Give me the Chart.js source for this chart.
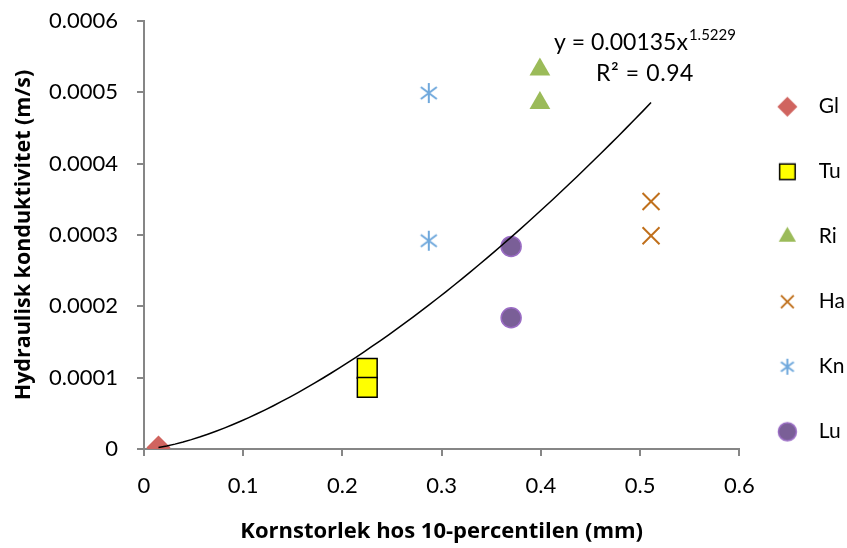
<!DOCTYPE html>
<html>
<head>
<meta charset="utf-8">
<script src="https://cdn.jsdelivr.net/npm/chart.js@4"></script>
<style>
  html, body { margin: 0; padding: 0; background: #fff; }
  #wrap { width: 847px; height: 548px; }
</style>
</head>
<body>
<div id="wrap"><canvas id="chart" width="847" height="548"></canvas></div>
<script>
// values
const seriesNames = ['Gl', 'Tu', 'Ri', 'Ha', 'Kn', 'Lu'];
const glX = [0.0146];
const glY = [0.000002];
const tuX = [0.225, 0.225];
const tuY = [0.000113, 0.0000865];
const riX = [0.399, 0.399];
const riY = [0.000532, 0.000485];
const haX = [0.511, 0.511];
const haY = [0.000347, 0.000299];
const knX = [0.287, 0.287];
const knY = [0.000499, 0.000292];
const luX = [0.370, 0.370];
const luY = [0.000284, 0.000184];

const xTicks = [0, 0.1, 0.2, 0.3, 0.4, 0.5, 0.6];
const yTicks = [0, 0.0001, 0.0002, 0.0003, 0.0004, 0.0005, 0.0006];

// power trendline shown on the chart
const trendA = 0.00135;
const trendB = 1.5229;
const trendFrom = 0.0146;
const trendTo = 0.511;

const FONT = 'Lato, "Open Sans", sans-serif';
const TITLE_FONT = '"Open Sans", Lato, sans-serif';

function pts(xs, ys) {
  return xs.map((x, i) => ({ x: x, y: ys[i] }));
}

// six-armed asterisk like the Excel marker
function asterisk(color, size) {
  const c = document.createElement('canvas');
  c.width = size; c.height = size;
  const g = c.getContext('2d');
  const r = size / 2 - 1;
  g.strokeStyle = color;
  g.lineWidth = 2;
  g.beginPath();
  g.moveTo(size / 2, size / 2 - r); g.lineTo(size / 2, size / 2 + r);
  const d = r * 0.8;
  g.moveTo(size / 2 - d, size / 2 - d * 0.75); g.lineTo(size / 2 + d, size / 2 + d * 0.75);
  g.moveTo(size / 2 - d, size / 2 + d * 0.75); g.lineTo(size / 2 + d, size / 2 - d * 0.75);
  g.stroke();
  return c;
}

const knMarker = asterisk('#6FA8DC', 22);

// legend marker drawn a bit left of the image centre, so the label sits further right
function legendMarker(ds, r) {
  const w = 40, h = 2 * r + 6;
  const c = document.createElement('canvas');
  c.width = w; c.height = h;
  const g = c.getContext('2d');
  const cx = 11.5, cy = h / 2;
  if (typeof ds.pointStyle !== 'string') {
    const img = asterisk(ds.borderColor, 2 * r);
    g.drawImage(img, cx - r, cy - r);
    return c;
  }
  g.fillStyle = ds.backgroundColor;
  g.strokeStyle = ds.borderColor;
  g.lineWidth = ds.borderWidth;
  Chart.helpers.drawPoint(g, { pointStyle: ds.pointStyle, radius: r, borderWidth: ds.borderWidth, rotation: 0 }, cx, cy);
  return c;
}

const legendRadius = [10, 11, 10, 9, 9, 9];

const trendPlugin = {
  id: 'trend',
  afterDatasetsDraw(chart) {
    const { ctx, scales } = chart;
    const xs = scales.x, ys = scales.y;
    ctx.save();
    ctx.beginPath();
    const n = 60;
    for (let i = 0; i <= n; i++) {
      const x = trendFrom + (trendTo - trendFrom) * i / n;
      const px = xs.getPixelForValue(x);
      const py = ys.getPixelForValue(trendA * Math.pow(x, trendB));
      if (i === 0) ctx.moveTo(px, py); else ctx.lineTo(px, py);
    }
    ctx.strokeStyle = '#000';
    ctx.lineWidth = 1.5;
    ctx.stroke();

    // equation label
    ctx.fillStyle = '#000';
    ctx.textBaseline = 'middle';
    ctx.textAlign = 'left';
    ctx.font = '23px ' + FONT;
    const eq = 'y = ' + trendA + 'x';
    const left = 554;
    ctx.fillText(eq, left, 43);
    const w = ctx.measureText(eq).width;
    ctx.font = '15px ' + FONT;
    ctx.fillText(String(trendB), left + w + 1, 35);
    ctx.letterSpacing = '0.6px';
    ctx.font = '23px ' + FONT;
    ctx.fillText('R\u00B2 = 0.94', 596, 74);
    ctx.restore();
  }
};

const ctx = document.getElementById('chart').getContext('2d');
new Chart(ctx, {
  type: 'scatter',
  data: {
    datasets: [
      { label: seriesNames[0], data: pts(glX, glY), pointStyle: 'rectRot', pointRadius: 12,
        backgroundColor: '#D0645F', borderColor: '#D0645F', borderWidth: 0 },
      { label: seriesNames[1], data: pts(tuX, tuY), pointStyle: 'rect', pointRadius: 14,
        backgroundColor: '#FFFF00', borderColor: '#000000', borderWidth: 1.5 },
      { label: seriesNames[2], data: pts(riX, riY), pointStyle: 'triangle', pointRadius: 12,
        backgroundColor: '#9BBB59', borderColor: '#9BBB59', borderWidth: 0 },
      { label: seriesNames[3], data: pts(haX, haY), pointStyle: 'crossRot', pointRadius: 12,
        backgroundColor: '#C0701C', borderColor: '#C0701C', borderWidth: 2 },
      { label: seriesNames[4], data: pts(knX, knY), pointStyle: knMarker, pointRadius: 11,
        backgroundColor: '#6FA8DC', borderColor: '#6FA8DC', borderWidth: 2 },
      { label: seriesNames[5], data: pts(luX, luY), pointStyle: 'circle', pointRadius: 10,
        backgroundColor: '#7A5F97', borderColor: '#9A6CC4', borderWidth: 1.5 }
    ]
  },
  options: {
    responsive: false,
    animation: false,
    layout: { padding: { top: 1, right: -8, left: 6, bottom: 0 } },
    plugins: {
      tooltip: { enabled: false },
      legend: {
        position: 'right',
        align: 'start',
        title: { display: true, text: ' ', font: { family: FONT, size: 21 }, padding: { top: 13, bottom: 13 } },
        labels: {
          usePointStyle: true,
          pointStyleWidth: 25,
          padding: 44,
          color: '#000',
          font: { family: FONT, size: 21 },
          generateLabels: (chart) => {
            const items = Chart.defaults.plugins.legend.labels.generateLabels(chart);
            items.forEach((it, i) => {
              it.pointStyle = legendMarker(chart.data.datasets[i], legendRadius[i]);
            });
            return items;
          }
        }
      }
    },
    scales: {
      x: {
        type: 'linear',
        min: 0, max: 0.6,
        afterBuildTicks: (s) => { s.ticks = xTicks.map(v => ({ value: v })); },
        afterFit: (s) => { s.height = 99; },
        ticks: {
          color: '#000', padding: 19,
          font: { family: FONT, size: 22, lineHeight: 1 },
          callback: (v) => String(+v.toFixed(1))
        },
        grid: { drawOnChartArea: false, tickLength: 7, color: '#868686', lineWidth: 2 },
        border: { color: '#868686', width: 2 },
        title: {
          display: true, text: 'Kornstorlek hos 10-percentilen (mm)', color: '#000',
          font: { family: TITLE_FONT, size: 22, weight: 'bold', lineHeight: 1 }, padding: { top: 11, bottom: 5 }
        }
      },
      y: {
        type: 'linear',
        min: 0, max: 0.0006,
        afterBuildTicks: (s) => { s.ticks = yTicks.map(v => ({ value: v })); },
        afterFit: (s) => { s.width = 138; s.paddingTop = 21; },
        ticks: {
          color: '#000', padding: 19,
          font: { family: FONT, size: 22 },
          callback: (v) => v === 0 ? '0' : v.toFixed(4)
        },
        grid: { drawOnChartArea: false, tickLength: 7, color: '#868686', lineWidth: 2 },
        border: { color: '#868686', width: 2 },
        title: {
          display: true, text: 'Hydraulisk konduktivitet (m/s)', color: '#000',
          font: { family: TITLE_FONT, size: 21.5, weight: 'bold' }, padding: { top: 5, bottom: 2 }
        }
      }
    }
  },
  plugins: [trendPlugin]
});
</script>
</body>
</html>
